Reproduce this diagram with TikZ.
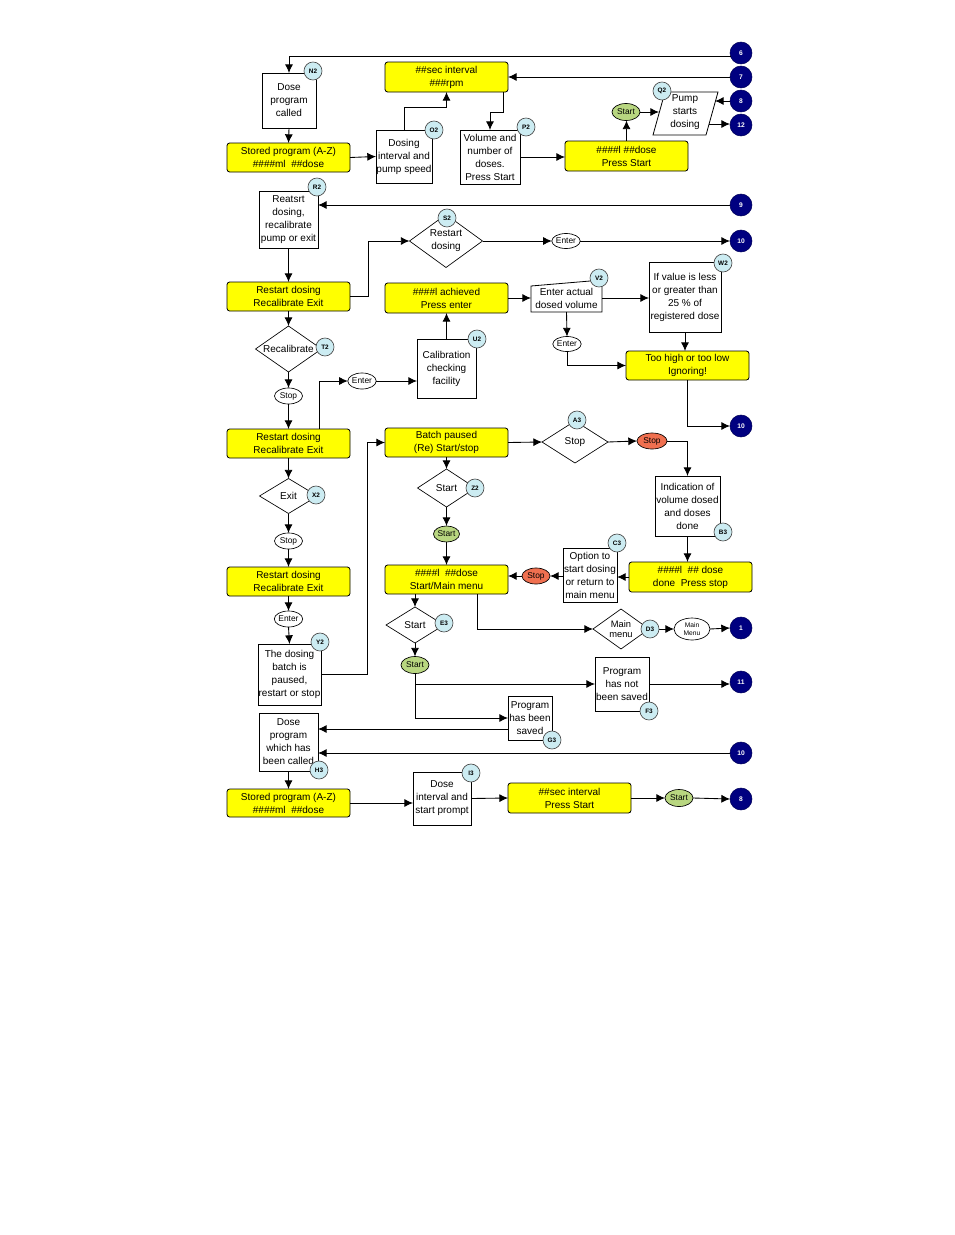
\documentclass[tikz,border=0pt]{standalone}
\usepackage{fontspec}
\setmainfont{Liberation Sans}
\usetikzlibrary{shapes.geometric,arrows.meta,calc}
\definecolor{yellowc}{RGB}{255,255,0}
\definecolor{greenc}{RGB}{184,214,128}
\definecolor{redc}{RGB}{240,112,80}
\definecolor{navyc}{RGB}{0,0,128}
\definecolor{bluec}{RGB}{204,236,242}
\newcommand\myfs{\fontsize{7.5}{9.75}\selectfont}
\newcommand\myfk{\fontsize{6.3}{7}\selectfont}
\newcommand\myfc{\fontsize{5}{5}\selectfont\bfseries}
\newcommand\myfl{\fontsize{4.8}{5}\selectfont\bfseries}
\newcommand\myfm{\fontsize{5}{5.5}\selectfont}
\newcommand\myfd{\fontsize{7}{8}\selectfont}
\tikzset{
 sz/.style 2 args={minimum width=#1*0.75pt, minimum height=#2*0.75pt},
 base/.style={inner sep=0pt, outer sep=0pt, align=center, font=\myfs},
 ybox/.style={base, draw=black, fill=yellowc, rounded corners=2pt, line width=0.6pt},
 wbox/.style={base, draw=black, fill=white, line width=0.6pt},
 dia/.style={base, diamond, draw=black, fill=white, line width=0.5pt},
 key/.style={ellipse, draw=black, fill=white, inner sep=0pt, outer sep=0pt, font=\myfk, line width=0.5pt},
 gkey/.style={key, fill=greenc},
 rkey/.style={key, fill=redc},
 conn/.style={circle, fill=navyc, draw=navyc!70!black, minimum size=22*0.75pt, inner sep=0pt, outer sep=0pt, text=white, font=\myfc},
 lab/.style={circle, fill=bluec, draw=black!70, minimum size=18*0.75pt, inner sep=0pt, font=\myfl, line width=0.5pt},
 ar/.style={-{Latex[length=6.5pt,width=6pt]}, line width=0.65pt},
 ln/.style={line width=0.6pt}
}
\begin{document}
\begin{tikzpicture}[x=0.75pt,y=-0.75pt]
\fill[white] (0,0) rectangle (954,1235);
\useasboundingbox (0,0) rectangle (954,1235);

% ---------- yellow boxes
\node[ybox,sz={123}{29}] (st1) at (288.5,157.5) {Stored program (A-Z)\\\#\#\#\#ml~ \#\#dose};
\node[ybox,sz={123}{30}] (sec1) at (446.5,77) {\#\#sec interval\\\#\#\#rpm};
\node[ybox,sz={123}{30}] (ps1) at (626.5,156) {\#\#\#\#l \#\#dose\\Press Start};
\node[ybox,sz={123}{29}] (rd1) at (288.5,296.5) {Restart dosing\\Recalibrate Exit};
\node[ybox,sz={123}{30}] (ach) at (446.5,298) {\#\#\#\#l achieved\\Press enter};
\node[ybox,sz={123}{29}] (too) at (687.5,365.5) {Too high or too low\\Ignoring!};
\node[ybox,sz={123}{29}] (rd2) at (288.5,443.5) {Restart dosing\\Recalibrate Exit};
\node[ybox,sz={123}{29}] (bp) at (446.5,442.5) {Batch paused\\(Re) Start/stop};
\node[ybox,sz={123}{29}] (rd3) at (288.5,581.5) {Restart dosing\\Recalibrate Exit};
\node[ybox,sz={123}{29}] (sm) at (446.5,579.5) {\#\#\#\#l~ \#\#dose\\Start/Main menu};
\node[ybox,sz={123}{30}] (done) at (690.5,577) {\#\#\#\#l~ \#\# dose\\done~ Press stop};
\node[ybox,sz={123}{28}] (st2) at (288.5,803) {Stored program (A-Z)\\\#\#\#\#ml~ \#\#dose};
\node[ybox,sz={123}{30}] (sec2) at (569.5,798) {\#\#sec interval\\Press Start};

% ---------- white boxes
\node[wbox,sz={54}{55}] (dpc) at (289,100.5) {Dose\\program\\called};
\node[wbox,sz={56}{53}] (dis) at (404,156.5) {Dosing\\interval and\\pump speed};
\node[wbox,sz={60}{54}] (vol) at (490,157) {Volume and\\number of\\doses.\\Press Start};
\node[wbox,sz={59}{57}] (rst) at (288.5,219.5) {Reatsrt\\dosing,\\recalibrate\\pump or exit};
\node[wbox,sz={72}{70}] (ifv) at (685,297) {If value is less\\or greater than\\25 \% of\\registered dose};
\node[wbox,sz={59}{59}] (cal) at (446.5,368.5) {Calibration\\checking\\facility};
\node[wbox,sz={65}{60}] (ind) at (687.5,506) {Indication of\\volume dosed\\and doses\\done};
\node[wbox,sz={54}{54}] (opt) at (590,575) {Option to\\start dosing\\or return to\\main menu};
\node[wbox,sz={63}{61}] (dbp) at (289.5,674.5) {The dosing\\batch is\\paused,\\restart or stop};
\node[wbox,sz={54}{54}] (pns) at (622,684) {Program\\has not\\been saved};
\node[wbox,sz={44}{44}] (phs) at (530,718) {Program\\has been\\saved};
\node[wbox,sz={59}{58}] (dpw) at (288.5,742) {Dose\\program\\which has\\been called};
\node[wbox,sz={58}{53}] (dip) at (442,798.5) {Dose\\interval and\\start prompt};

% manual input shape
\draw[ln,fill=white] (531,286) -- (602,280) -- (602,312) -- (531,312) -- cycle;
\node[base,sz={71}{28}] (eav) at (566.5,298) {Enter actual\\dosed volume};
% parallelogram
\draw[ln,fill=white] (665,92) -- (718,92) -- (706,135) -- (653,135) -- cycle;
\node[base] (pd) at (685,112) {Pump\\starts\\dosing};
\coordinate (pdL) at (659,112);
\coordinate (pdR1) at (715,101);
\coordinate (pdR2) at (709,124);

% ---------- diamonds
\node[dia,sz={73}{53},aspect=1.38] (rsd) at (446,241) {Restart\\dosing};
\node[dia,sz={66}{46},aspect=1.43] (rec) at (288.5,349) {Recalibrate};
\node[dia,sz={58}{35},aspect=1.65] (exd) at (288.5,496) {Exit};
\node[dia,sz={66}{42},aspect=1.57] (a3d) at (575,442) {Stop};
\node[dia,sz={58}{38},aspect=1.53] (sdz) at (446.5,488) {Start};
\node[dia,sz={58}{36},aspect=1.6] (sde) at (415,625) {Start};
\node[dia,sz={56}{40},aspect=1.4,font=\myfd] (mmd) at (621,629) {Main\\menu};

% ---------- key ellipses
\node[gkey,sz={28}{17}] (s1) at (626,112) {Start};
\node[key,sz={28}{15}] (e1) at (566,241) {Enter};
\node[key,sz={28}{15}] (e2) at (567,344) {Enter};
\node[key,sz={28}{16}] (stop1) at (288.5,396) {Stop};
\node[key,sz={28}{16}] (e3) at (362,381) {Enter};
\node[rkey,sz={30}{16}] (rs1) at (652,441) {Stop};
\node[gkey,sz={26}{16}] (s2) at (446.5,534) {Start};
\node[key,sz={28}{16}] (stop2) at (288.5,541) {Stop};
\node[key,sz={28}{16}] (e4) at (288.5,619) {Enter};
\node[rkey,sz={28}{16}] (rs2) at (536,576) {Stop};
\node[gkey,sz={28}{17}] (s3) at (415,665) {Start};
\node[key,sz={36}{22},font=\myfm,align=center] (mm) at (692,629) {Main\\Menu};
\node[gkey,sz={28}{17}] (s4) at (679,798) {Start};

% ---------- off-page connectors
\node[conn] (c6) at (741,53) {6};
\node[conn] (c7) at (741,77) {7};
\node[conn] (c8a) at (741,101) {8};
\node[conn] (c12) at (741,125) {12};
\node[conn] (c9) at (741,205) {9};
\node[conn] (c10a) at (741,241) {10};
\node[conn] (c10b) at (741,426) {10};
\node[conn] (c1) at (741,628) {1};
\node[conn] (c11) at (741,682) {11};
\node[conn] (c10c) at (741,753) {10};
\node[conn] (c8b) at (741,799) {8};

% ---------- helper coordinates
\coordinate (k1) at (446.5,107);
\coordinate (k3) at (490,112);

% ---------- connectors
\draw[ar] (c6.200) -| (dpc.north);
\draw[ar] (dpc.south) -- (st1.north);
\draw[ar] (st1.east) -- (dis.west);
\draw[ar] (dis.north) |- (k1) -- (sec1.south);
\draw[ar] (c7.west) -- (sec1.east);
\draw[ar] ([xshift=-3.75pt]sec1.south east) |- (k3) -- (vol.north);
\draw[ar] (vol.east) -- (vol.east -| ps1.west);
\draw[ar] (ps1.north) -- (ps1.north |- s1.south);
\draw[ar] (s1.east) -- (pdL);
\draw[ar] (c8a.west) -- (pdR1);
\draw[ar] (pdR2) -- (pdR2 -| c12.west);
\draw[ar] (c9.west) -- (c9.west -| rst.east);
\draw[ar] (rst.south) -- (rd1.north);
\draw[ar] (rd1.east) -- ++(18,0) |- (rsd.west);
\draw[ar] (rsd.east) -- (e1.west);
\draw[ar] (e1.east) -- (c10a.west);
\draw[ar] (ach.east) -- (eav.west);
\draw[ar] (eav.east) -- (eav.east -| ifv.west);
\draw[ar] (eav.south) -- (e2.north);
\draw[ar] (e2.south) |- (too.west);
\draw[ar] (ifv.south) -- (ifv.south |- too.north);
\draw[ar] (too.south) |- (c10b.west);
\draw[ar] (rd1.south) -- (rec.north);
\draw[ar] (rec.south) -- (stop1.north);
\draw[ar] (stop1.south) -- (rd2.north);
\draw[ar] ([xshift=-23.25pt]rd2.north east) |- (e3.west);
\draw[ar] (e3.east) -- (e3.east -| cal.west);
\draw[ar] (cal.north) -- (ach.south);
\draw[ar] (rd2.south) -- (exd.north);
\draw[ar] (exd.south) -- (stop2.north);
\draw[ar] (stop2.south) -- (rd3.north);
\draw[ar] (rd3.south) -- (e4.north);
\draw[ar] (e4.south) -- (dbp.north);
\draw[ar] (dbp.east) -- ++(46,0) |- (bp.west);
\draw[ar] (bp.east) -- (a3d.west);
\draw[ar] (a3d.east) -- (rs1.west);
\draw[ar] (rs1.east) -| (ind.north);
\draw[ar] (ind.south) -- (ind.south |- done.north);
\draw[ar] (done.west) -- (done.west -| opt.east);
\draw[ar] (rs2.east -| opt.west) -- (rs2.east);
\draw[ar] (rs2.west) -- (rs2.west -| sm.east);
\draw[ar] (bp.south) -- (sdz.north);
\draw[ar] (sdz.south) -- (s2.north);
\draw[ar] (s2.south) -- (sm.north);
\draw[ar] (sde.north |- sm.south) -- (sde.north);
\draw[ar] (sde.south) -- (s3.north);
\draw[ar] (s3.south) |- (phs.west);
\draw[ar] (s3.south |- pns.west) -- (pns.west);
\draw[ar] ([xshift=22.9pt]sm.south) |- (mmd.west);
\draw[ar] (mmd.east) -- (mm.west);
\draw[ar] (mm.east) -- (c1.west);
\draw[ar] (pns.east) -- (pns.east -| c11.west);
\draw[ar] ([yshift=-8.25pt]phs.west) -- ([yshift=-8.25pt]phs.west -| dpw.east);
\draw[ar] (c10c.west) -- (c10c.west -| dpw.east);
\draw[ar] (dpw.south) -- (st2.north);
\draw[ar] (st2.east) -- (st2.east -| dip.west);
\draw[ar] (dip.east) -- (sec2.west);
\draw[ar] (sec2.east) -- (s4.west);
\draw[ar] (s4.east) -- (c8b.west);

% ---------- reference labels
\node[lab] (lN2) at (313,71) {N2};
\node[lab] (lO2) at (434,130) {O2};
\node[lab] (lP2) at (526,127) {P2};
\node[lab] (lQ2) at (662,91) {Q2};
\node[lab] (lR2) at (317,187) {R2};
\node[lab] (lS2) at (447,218) {S2};
\node[lab] (lV2) at (599,278) {V2};
\node[lab] (lW2) at (723,263) {W2};
\node[lab] (lT2) at (325,347) {T2};
\node[lab] (lU2) at (477,339) {U2};
\node[lab] (lA3) at (577,420) {A3};
\node[lab] (lX2) at (316,495) {X2};
\node[lab] (lZ2) at (475,488) {Z2};
\node[lab] (lB3) at (723,532) {B3};
\node[lab] (lC3) at (617,543) {C3};
\node[lab] (lY2) at (320,642) {Y2};
\node[lab] (lE3) at (444,623) {E3};
\node[lab] (lD3) at (650,629) {D3};
\node[lab] (lF3) at (649,711) {F3};
\node[lab] (lG3) at (552,740) {G3};
\node[lab] (lH3) at (319,770) {H3};
\node[lab] (lI3) at (471,773) {I3};
\end{tikzpicture}
\end{document}
